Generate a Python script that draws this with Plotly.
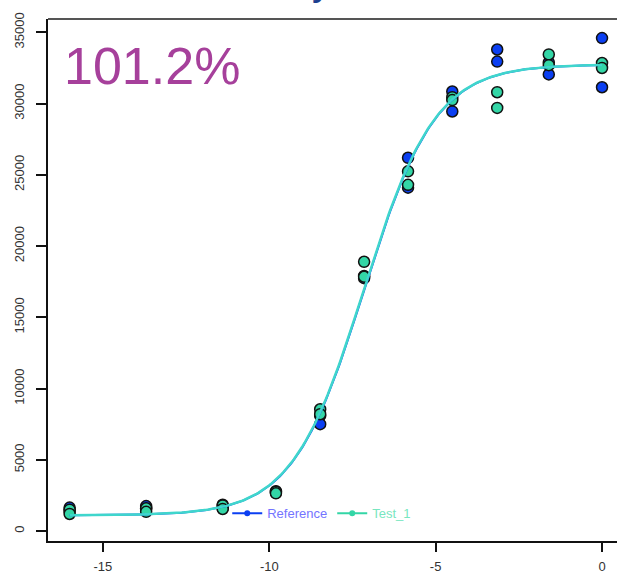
import numpy as np
import plotly.graph_objects as go

# log concentration of each dilution step
conc = [-16.0, -13.7, -11.4, -9.8, -8.47, -7.15, -5.83, -4.5, -3.15, -1.6, 0.0]

# replicate responses for the reference standard and the test sample
ref_rep1 = [1650, 1750, 1850, 2800, 8100, 17900, 26200, 30850, 33800, 32900, 34600]
ref_rep2 = [1400, 1550, 1600, 2700, 7500, 17750, 24100, 29450, 32950, 32050, 31150]
test_rep1 = [1500, 1600, 1800, 2750, 8550, 18900, 25250, 30450, 30800, 33450, 32850]
test_rep2 = [1200, 1350, 1550, 2650, 8200, 17850, 24300, 30250, 29700, 32700, 32500]

# shared four-parameter logistic fit
fit_bottom = 1100.0
fit_top = 32750.0
fit_mid = -7.15
fit_slope = 0.93
relative_potency = 1.012

x_ticks = [-15, -10, -5, 0]
x_ticklabels = ["-15", "-10", "-5", "0"]
y_ticks = [0, 5000, 10000, 15000, 20000, 25000, 30000, 35000]
y_ticklabels = [str(v) for v in y_ticks]

potency_label = "101.2%"
header_tail = "y"
series_names = ["Reference", "Test_1"]

BLUE = "#0b3ff2"
TEAL = "#33d6a6"
CURVE = "#3fd6cc"


def four_pl(x, mid):
    x = np.asarray(x)
    return fit_bottom + (fit_top - fit_bottom) / (1.0 + np.exp(-fit_slope * (x - mid)))


xs = np.linspace(conc[0], conc[-1], 300)

fig = go.Figure()

# replicate points
for reps, color in ((ref_rep1 + ref_rep2, BLUE), (test_rep1 + test_rep2, TEAL)):
    fig.add_trace(go.Scatter(
        x=conc + conc, y=reps, mode="markers",
        marker=dict(size=11, color=color, line=dict(color="#111111", width=1.5)),
        showlegend=False, hoverinfo="x+y",
    ))

# fitted curves
fig.add_trace(go.Scatter(x=xs, y=four_pl(xs, fit_mid), mode="lines",
                         line=dict(color=BLUE, width=2), showlegend=False))
fig.add_trace(go.Scatter(x=xs, y=four_pl(xs, fit_mid - np.log(relative_potency)), mode="lines",
                         line=dict(color=CURVE, width=2.5), showlegend=False))

# legend entries
legend_text_colors = ["#7474ff", "#78e6c0"]
for name, color, tcol in zip(series_names, (BLUE, TEAL), legend_text_colors):
    fig.add_trace(go.Scatter(
        x=[None], y=[None], mode="lines+markers",
        line=dict(color=color, width=2),
        marker=dict(size=6, color=color),
        name=f"<span style='color:{tcol}'>{name}</span>",
    ))

axis_font = dict(family="Liberation Sans, Arial, sans-serif", size=13, color="#333333")

fig.update_layout(
    width=617, height=574,
    margin=dict(l=48, r=0, t=19, b=30),
    paper_bgcolor="white", plot_bgcolor="white",
    showlegend=True,
    legend=dict(orientation="h", x=0.315, y=0.053, xanchor="left", yanchor="middle",
                bgcolor="rgba(0,0,0,0)", font=dict(family="Liberation Sans, Arial, sans-serif",
                                                    size=13),
                itemwidth=30, tracegroupgap=0),
    xaxis=dict(range=[-16.65, 0.45], showgrid=False, zeroline=False,
               showline=True, linecolor="#111111", linewidth=2,
               ticks="outside", ticklen=9, tickwidth=2, tickcolor="#111111",
               tickvals=x_ticks, ticktext=x_ticklabels, tickfont=axis_font,
               ticklabelstandoff=3),
    yaxis=dict(range=[-698, 35940], showgrid=False, zeroline=False,
               showline=True, linecolor="#111111", linewidth=2,
               ticks="outside", ticklen=10, tickwidth=2, tickcolor="#111111",
               tickvals=y_ticks, ticktext=y_ticklabels, tickfont=axis_font,
               tickangle=-90, ticklabelstandoff=7),
    shapes=[dict(type="line", xref="paper", yref="paper", x0=0, x1=1, y0=1, y1=1,
                 line=dict(color="#555555", width=2))],
    annotations=[
        dict(text=potency_label, xref="paper", yref="paper", x=0.025, y=0.91,
             xanchor="left", yanchor="middle", showarrow=False,
             font=dict(family="Liberation Sans, Arial, sans-serif", size=52, color="#a6409b")),
        dict(text=header_tail, xref="paper", yref="paper", x=0.4816, y=1.072,
             xanchor="center", yanchor="middle", showarrow=False,
             font=dict(family="Liberation Sans, Arial, sans-serif", size=40, color="#1b3f8f")),
    ],
)

fig.write_html("out.html")
